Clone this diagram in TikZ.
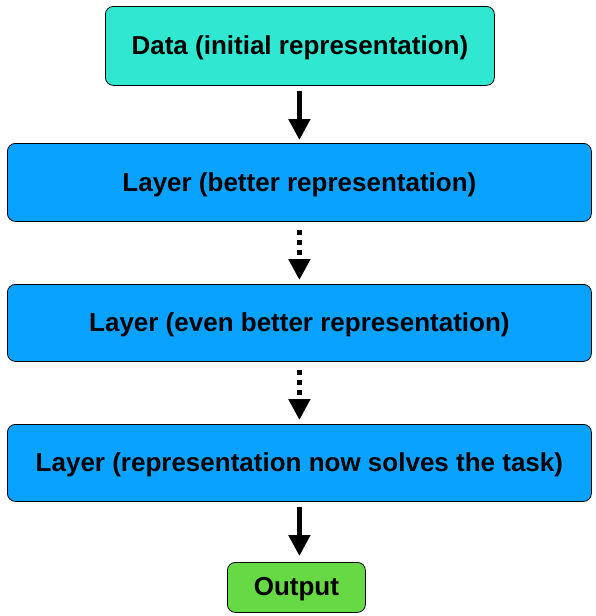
\documentclass[tikz,border=0pt]{standalone}
\usepackage{fontspec}
\setmainfont{Liberation Sans}
\usetikzlibrary{arrows.meta}
\definecolor{datac}{HTML}{30E8D2}
\definecolor{layerc}{HTML}{0AA2FF}
\definecolor{outc}{HTML}{66D944}
\begin{document}
\begin{tikzpicture}[x=1pt,y=-1pt,
  box/.style={draw=black, line width=0.8pt, rounded corners=8pt, font=\fontsize{26}{30}\selectfont\bfseries, inner sep=0pt, text depth=1pt, anchor=north west},
  conn/.style={line width=5pt, -{Triangle[length=21pt,width=21pt]}},
  dotconn/.style={line width=5pt, dash pattern=on 5pt off 5pt, -{Triangle[length=21pt,width=21pt]}}]
\useasboundingbox (0,0) rectangle (596,616);
\node[box, fill=datac, minimum width=389pt, minimum height=79pt] (data) at (105,6) {Data (initial representation)};
\node[box, fill=layerc, minimum width=584pt, minimum height=78pt] (l1) at (7,143) {Layer (better representation)};
\node[box, fill=layerc, minimum width=584pt, minimum height=77pt] (l2) at (7,284) {Layer (even better representation)};
\node[box, fill=layerc, minimum width=584pt, minimum height=77pt] (l3) at (7,424) {Layer (representation now solves the task)};
\node[box, fill=outc, minimum width=138pt, minimum height=50pt] (out) at (227,562) {Output};
\draw[conn] ([yshift=-5pt]l1.north |- data.south) -- ([yshift=3pt]l1.north);
\draw[dotconn] ([yshift=-8pt]l1.south) -- ([yshift=4pt]l2.north);
\draw[dotconn] ([yshift=-8pt]l2.south) -- ([yshift=4pt]l3.north);
\draw[conn] ([yshift=-5pt]l3.south) -- ([yshift=6pt]l3.south |- out.north);
\end{tikzpicture}
\end{document}
